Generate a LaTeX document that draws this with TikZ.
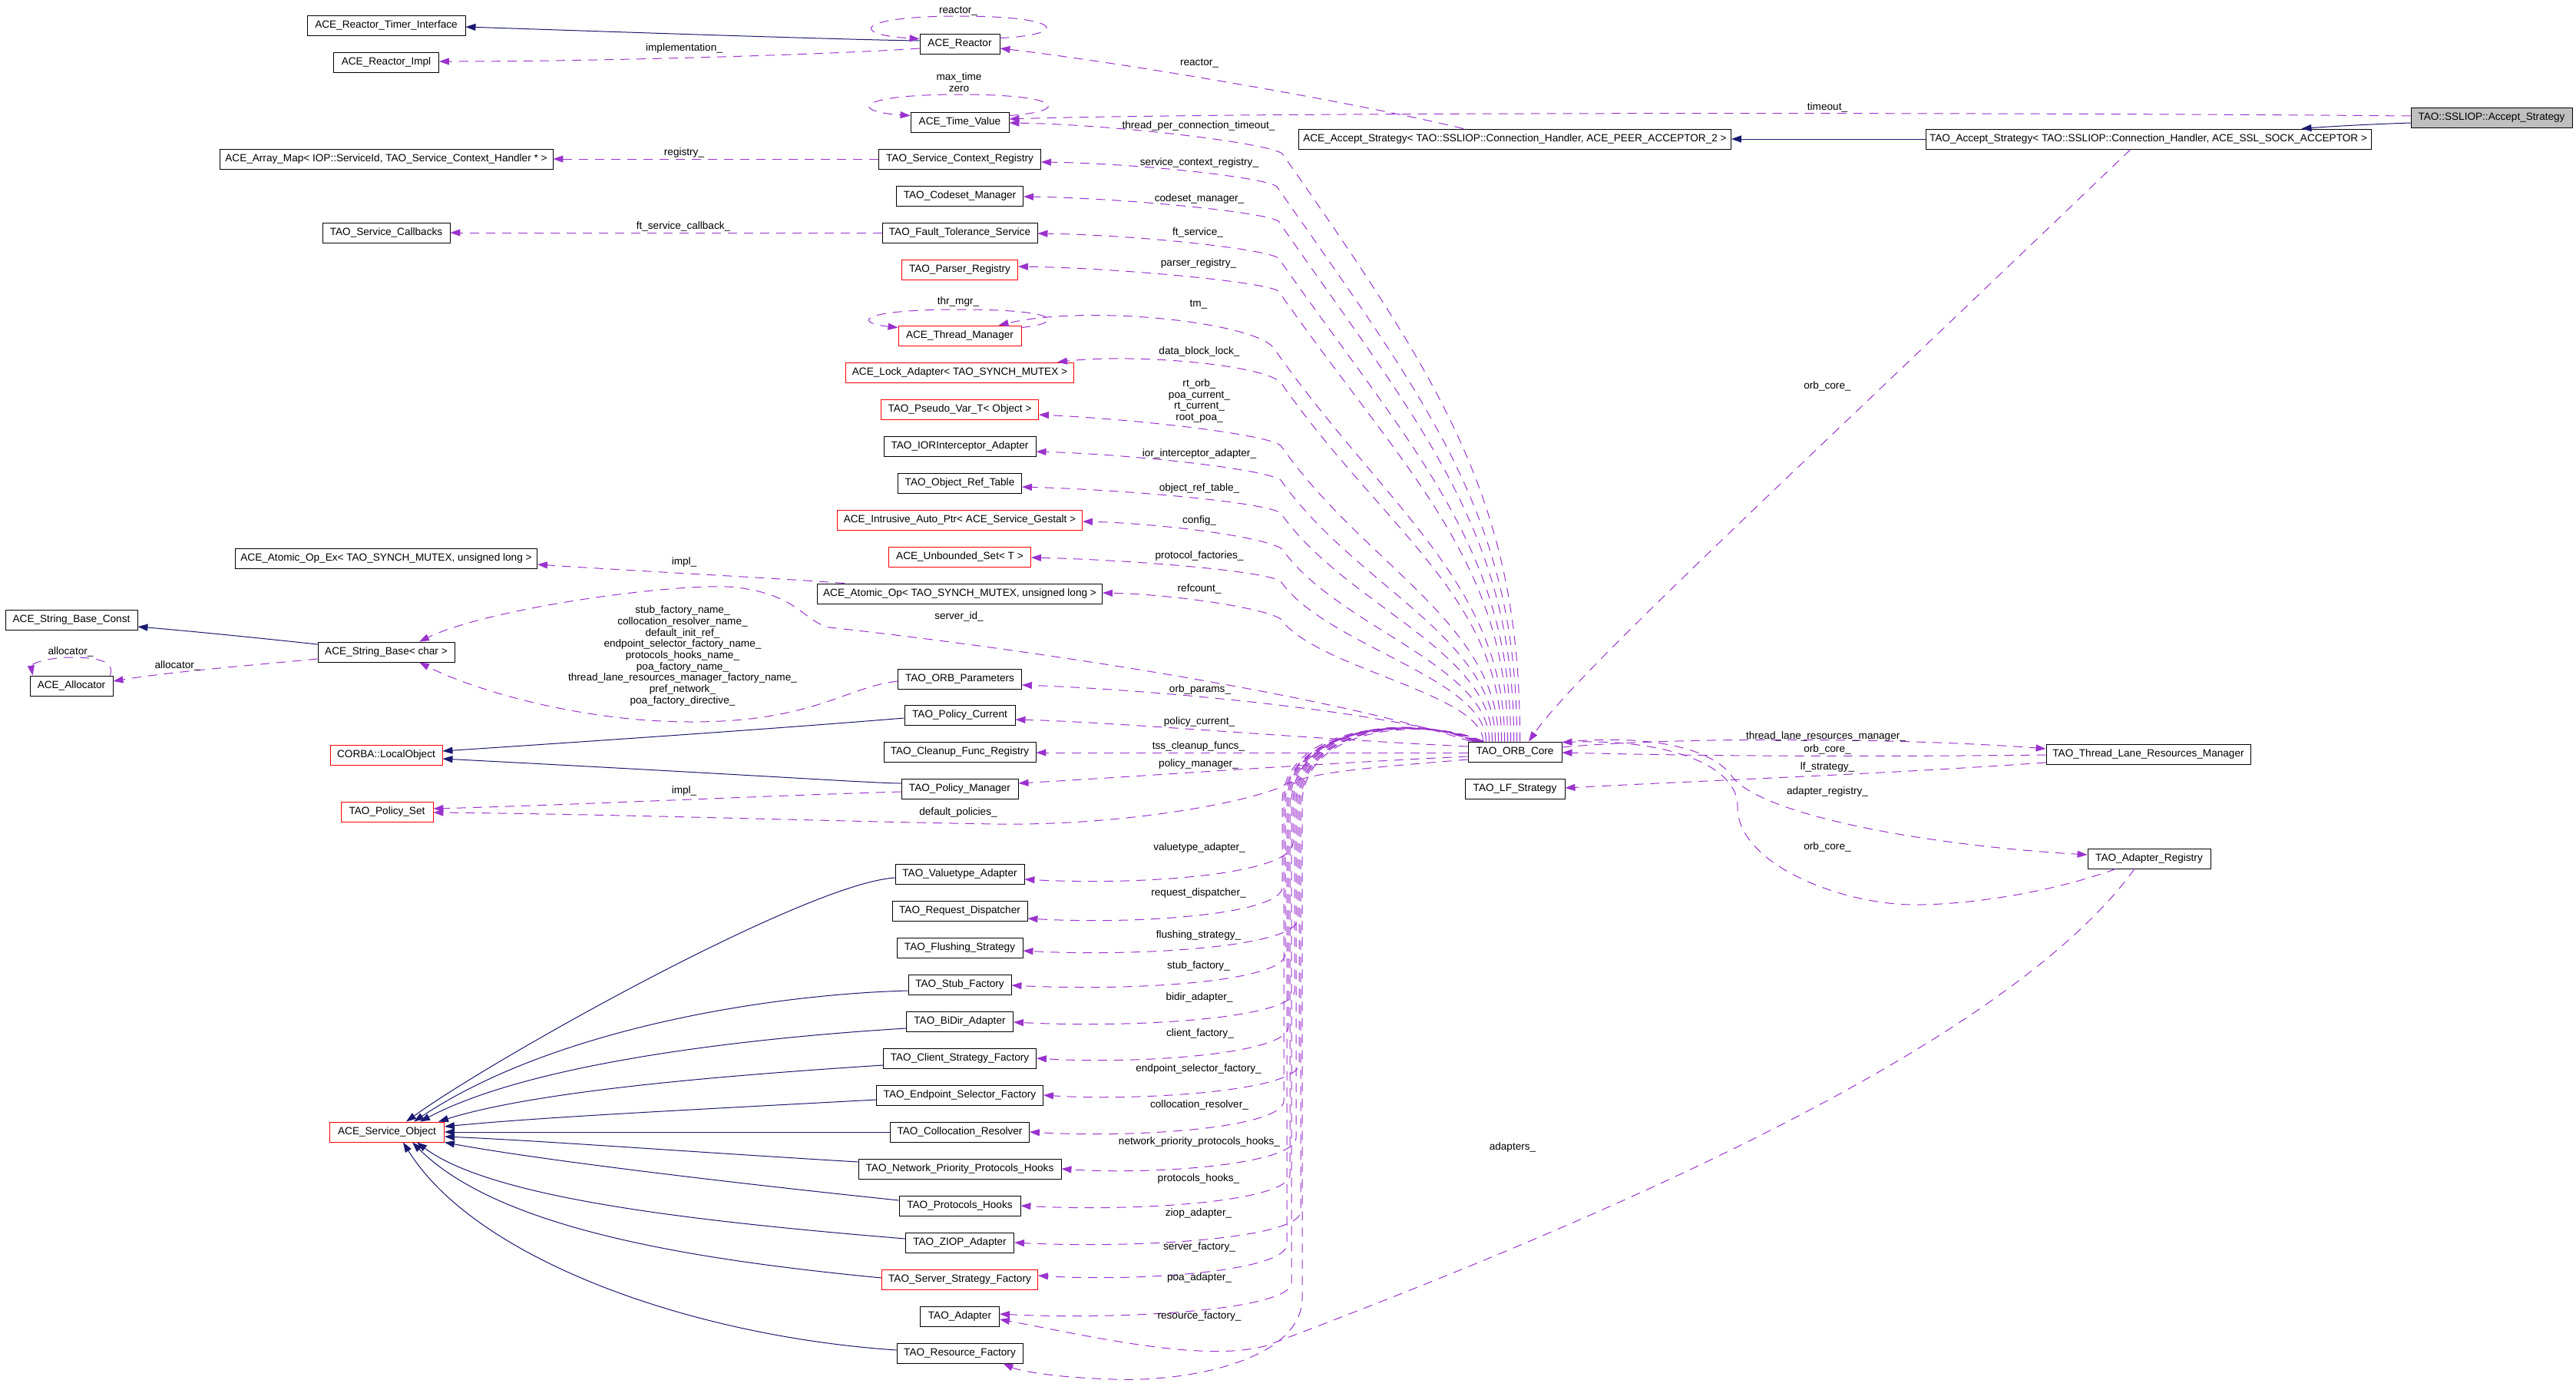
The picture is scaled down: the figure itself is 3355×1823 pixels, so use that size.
\documentclass[tikz,border=0pt]{standalone}
\usepackage{fontspec}
\setmainfont{Liberation Sans}
\usetikzlibrary{arrows.meta,calc}
\definecolor{navyc}{HTML}{191970}
\definecolor{orch}{HTML}{9A32CD}
\definecolor{grayfill}{HTML}{BFBFBF}
\newcommand{\dfont}{\fontsize{13.6}{14.7}\selectfont}
\begin{document}
\begin{tikzpicture}[x=1pt,y=-1pt,
  cls/.style={draw=black, line width=0.9pt, fill=white, minimum height=26pt, inner xsep=3pt, inner ysep=0pt, font=\dfont},
  redcls/.style={cls, draw=red},
  graycls/.style={cls, fill=grayfill},
  inh/.style={draw=navyc, line width=1pt, -{Triangle[length=13pt,width=9pt]}},
  dep/.style={draw=orch, line width=1pt, dash pattern=on 12pt off 9pt, -{Triangle[length=13pt,width=9pt]}},
  lbl/.style={font=\dfont, inner sep=0pt, align=center}]
\fill[white] (0,0) rectangle (3355,1823);
\useasboundingbox (0,0) rectangle (3355,1823);

% ---------- nodes ----------
\node[cls, minimum width=206pt] (rti) at (503,33) {ACE\_Reactor\_Timer\_Interface};
\node[cls, minimum width=137pt] (rimpl) at (503,81) {ACE\_Reactor\_Impl};
\node[cls, minimum width=434pt] (amap) at (503,207) {ACE\_Array\_Map< IOP::ServiceId, TAO\_Service\_Context\_Handler * >};
\node[cls, minimum width=166pt] (scb) at (503,303) {TAO\_Service\_Callbacks};
\node[cls, minimum width=104pt] (reactor) at (1250,57) {ACE\_Reactor};
\node[cls, minimum width=128pt] (tv) at (1250,159) {ACE\_Time\_Value};
\node[cls, minimum width=211pt] (scr) at (1250,207) {TAO\_Service\_Context\_Registry};
\node[cls, minimum width=165pt] (csm) at (1250,255) {TAO\_Codeset\_Manager};
\node[cls, minimum width=202pt] (fts) at (1250,303) {TAO\_Fault\_Tolerance\_Service};
\node[redcls, minimum width=151pt] (pr) at (1250,351) {TAO\_Parser\_Registry};
\node[redcls, minimum width=160pt] (thm) at (1250,437) {ACE\_Thread\_Manager};
\node[redcls, minimum width=297pt] (la) at (1250,485) {ACE\_Lock\_Adapter< TAO\_SYNCH\_MUTEX >};
\node[redcls, minimum width=205pt] (pv) at (1250,533) {TAO\_Pseudo\_Var\_T< Object >};
\node[cls, minimum width=198pt] (ior) at (1250,581) {TAO\_IORInterceptor\_Adapter};
\node[cls, minimum width=161pt] (ort) at (1250,629) {TAO\_Object\_Ref\_Table};
\node[redcls, minimum width=319pt] (iap) at (1250,677) {ACE\_Intrusive\_Auto\_Ptr< ACE\_Service\_Gestalt >};
\node[redcls, minimum width=185pt] (us) at (1250,725) {ACE\_Unbounded\_Set< T >};
\node[cls, minimum width=371pt] (aop) at (1250,773) {ACE\_Atomic\_Op< TAO\_SYNCH\_MUTEX, unsigned long >};
\node[cls, minimum width=393pt] (aopx) at (503,727) {ACE\_Atomic\_Op\_Ex< TAO\_SYNCH\_MUTEX, unsigned long >};
\node[cls, minimum width=172pt] (sbc) at (93,807) {ACE\_String\_Base\_Const};
\node[cls, minimum width=178pt] (sb) at (503,849) {ACE\_String\_Base< char >};
\node[cls, minimum width=108pt] (alloc) at (93,893) {ACE\_Allocator};
\node[cls, minimum width=161pt] (orbp) at (1250,884) {TAO\_ORB\_Parameters};
\node[cls, minimum width=144pt] (pc) at (1250,931) {TAO\_Policy\_Current};
\node[cls, minimum width=198pt] (cfr) at (1250,979) {TAO\_Cleanup\_Func\_Registry};
\node[cls, minimum width=152pt] (pm) at (1250,1027) {TAO\_Policy\_Manager};
\node[redcls, minimum width=146pt] (lo) at (503,983) {CORBA::LocalObject};
\node[redcls, minimum width=120pt] (ps) at (504,1057) {TAO\_Policy\_Set};
\node[cls, minimum width=122pt] (core) at (1973,979) {TAO\_ORB\_Core};
\node[cls, minimum width=130pt] (lf) at (1973,1027) {TAO\_LF\_Strategy};
\node[cls, minimum width=168pt] (vta) at (1250,1138) {TAO\_Valuetype\_Adapter};
\node[cls, minimum width=176pt] (rd) at (1250,1186) {TAO\_Request\_Dispatcher};
\node[cls, minimum width=164pt] (fs) at (1250,1234) {TAO\_Flushing\_Strategy};
\node[cls, minimum width=134pt] (stf) at (1250,1282) {TAO\_Stub\_Factory};
\node[cls, minimum width=139pt] (bda) at (1250,1330) {TAO\_BiDir\_Adapter};
\node[cls, minimum width=199pt] (csf) at (1250,1378) {TAO\_Client\_Strategy\_Factory};
\node[cls, minimum width=217pt] (esf) at (1250,1426) {TAO\_Endpoint\_Selector\_Factory};
\node[cls, minimum width=181pt] (cr) at (1250,1474) {TAO\_Collocation\_Resolver};
\node[cls, minimum width=264pt] (npph) at (1250,1522) {TAO\_Network\_Priority\_Protocols\_Hooks};
\node[cls, minimum width=158pt] (ph) at (1250,1570) {TAO\_Protocols\_Hooks};
\node[cls, minimum width=141pt] (zioa) at (1250,1618) {TAO\_ZIOP\_Adapter};
\node[redcls, minimum width=203pt] (ssf) at (1250,1666) {TAO\_Server\_Strategy\_Factory};
\node[cls, minimum width=103pt] (ada) at (1250,1714) {TAO\_Adapter};
\node[cls, minimum width=164pt] (rf) at (1250,1762) {TAO\_Resource\_Factory};
\node[redcls, minimum width=149pt] (so) at (504,1474) {ACE\_Service\_Object};
\node[cls, minimum width=563pt] (aas) at (1973,181) {ACE\_Accept\_Strategy< TAO::SSLIOP::Connection\_Handler, ACE\_PEER\_ACCEPTOR\_2 >};
\node[cls, minimum width=580pt] (tas) at (2798,181) {TAO\_Accept\_Strategy< TAO::SSLIOP::Connection\_Handler, ACE\_SSL\_SOCK\_ACCEPTOR >};
\node[graycls, minimum width=210pt] (ssl) at (3245,153) {TAO::SSLIOP::Accept\_Strategy};
\node[cls, minimum width=266pt] (tlrm) at (2798,982) {TAO\_Thread\_Lane\_Resources\_Manager};
\node[cls, minimum width=160pt] (areg) at (2799,1118) {TAO\_Adapter\_Registry};

% ---------- inheritance ----------
\draw[inh] ($(reactor.west)+(0,-4)$) .. controls (1100,52) and (700,38) .. ($(rti.east)+(0,2)$);
\draw[inh] ($(sb.west)+(0,-10)$) .. controls (330,830) and (250,822) .. ($(sbc.east)+(0,9)$);
\draw[inh] ($(pc.west)+(0,4)$) .. controls (1140,938) and (1000,950) .. ($(lo.east)+(0,-5)$);
\draw[inh] ($(pm.west)+(0,-7)$) .. controls (1140,1020) and (1000,1010) .. ($(lo.east)+(0,5)$);
\draw[inh] ($(ssl.west)+(0,7)$) .. controls (3080,162) and (3030,165) .. ($(tas.north east)+(-91,0)$);
\draw[inh] (tas.west) -- (aas.east);
\draw[inh] ($(vta.west)+(0,5)$) .. controls (1050,1150) and (640,1380) .. ($(so.north)+(25,0)$);
\draw[inh] ($(stf.west)+(0,8)$) .. controls (1000,1295) and (720,1340) .. ($(so.north)+(35,0)$);
\draw[inh] ($(bda.west)+(0,9)$) .. controls (1000,1350) and (700,1380) .. ($(so.north)+(43,0)$);
\draw[inh] ($(csf.west)+(0,9)$) .. controls (950,1400) and (700,1420) .. ($(so.north east)+(-8,0)$);
\draw[inh] ($(esf.west)+(0,6)$) .. controls (900,1445) and (700,1455) .. ($(so.east)+(0,-7)$);
\draw[inh] (cr.west) -- (so.east);
\draw[inh] ($(npph.west)+(0,-9)$) .. controls (900,1500) and (700,1485) .. ($(so.east)+(0,6)$);
\draw[inh] ($(ph.west)+(0,-7)$) .. controls (950,1540) and (700,1510) .. (so.south east);
\draw[inh] ($(zioa.west)+(0,-5)$) .. controls (900,1590) and (640,1560) .. ($(so.south)+(39,0)$);
\draw[inh] ($(ssf.west)+(0,-2)$) .. controls (900,1640) and (650,1600) .. ($(so.south)+(33,0)$);
\draw[inh] ($(rf.west)+(0,-4)$) .. controls (900,1740) and (620,1640) .. ($(so.south)+(21,0)$);

% ---------- dependencies (left part) ----------
\draw[dep] ($(reactor.west)+(0,6)$) .. controls (1100,70) and (800,80) .. ($(rimpl.east)+(0,-1)$);
\draw[dep] ($(reactor.north east)+(0,6)$) .. controls (1395,45) and (1385,21) .. (1250,21) .. controls (1115,21) and (1105,45) .. ($(reactor.north west)+(0,7)$);
\draw[dep] ($(aas.north west)+(215,0)$) .. controls (1750,130) and (1450,80) .. ($(reactor.east)+(0,6)$);
\draw[dep] ($(ssl.west)+(0,-2)$) .. controls (2600,146) and (1600,146) .. ($(tv.east)+(0,-4)$);
\draw[dep] ($(tv.north east)+(0,5)$) .. controls (1395,145) and (1385,123) .. (1250,123) .. controls (1115,123) and (1105,145) .. ($(tv.north west)+(0,5)$);
\draw[dep] ($(thm.north east)+(0,3)$) .. controls (1390,420) and (1380,403) .. (1250,403) .. controls (1120,403) and (1110,420) .. ($(thm.north west)+(0,3)$);
\draw[dep] (scr.west) -- (amap.east);
\draw[dep] (fts.west) -- (scb.east);
\draw[dep] ($(aop.north west)+(36,0)$) .. controls (1000,752) and (850,745) .. ($(aopx.east)+(0,8)$);
\draw[dep] ($(sb.west)+(0,9)$) .. controls (330,866) and (220,875) .. ($(alloc.east)+(0,-6)$);
\draw[dep] ($(alloc.north east)+(-4,0)$) .. controls (150,860) and (125,856) .. (93,856) .. controls (60,856) and (40,865) .. ($(alloc.north west)+(4,0)$);
\draw[dep] ($(orbp.west)+(0,3)$) .. controls (1100,895) and (1060,940) .. (900,940) .. controls (760,940) and (620,900) .. ($(sb.south)+(43,0)$);
\draw[dep] ($(core.north west)+(4,0)$) .. controls (1700,895) and (1250,835) .. (1080,817) .. controls (1045,808) and (1040,775) .. (960,765) .. controls (896,757) and (640,790) .. ($(sb.north)+(43,0)$);
\draw[dep] ($(pm.west)+(0,4)$) .. controls (1000,1036) and (750,1048) .. ($(ps.east)+(0,-4)$);
\draw[dep] ($(core.west)+(0,10)$) .. controls (1780,1000) and (1700,1005) .. (1663,1027) .. controls (1600,1050) and (1450,1075) .. (1298,1073) .. controls (1100,1070) and (800,1060) .. ($(ps.east)+(0,1)$);

% ---------- dependencies: upper bundle from core ----------
\draw[dep] ($(core.north west)+(68,0)$) .. controls (1980,660) and (1885,507) .. (1670,200) .. controls (1652,186) and (1450,162) .. ($(tv.east)+(0,1)$);
\draw[dep] ($(core.north west)+(64,0)$) .. controls (1976,677) and (1866,533) .. (1663,243) .. controls (1648,231) and (1485,213) .. ($(scr.east)+(0,4)$);
\draw[dep] ($(core.north west)+(60,0)$) .. controls (1972,695) and (1855,560) .. (1665,288) .. controls (1648,276) and (1462,258) .. ($(csm.east)+(0,1)$);
\draw[dep] ($(core.north west)+(56,0)$) .. controls (1968,715) and (1842,588) .. (1665,336) .. controls (1648,324) and (1481,306) .. ($(fts.east)+(0,1)$);
\draw[dep] ($(core.north west)+(52,0)$) .. controls (1964,732) and (1830,614) .. (1665,379) .. controls (1648,367) and (1456,349) .. ($(pr.east)+(0,-4)$);
\draw[dep] ($(core.north west)+(48,0)$) .. controls (1960,761) and (1802,658) .. (1658,452) .. controls (1630,420) and (1420,396) .. ($(thm.north east)+(-30,0)$);
\draw[dep] ($(core.north west)+(44,0)$) .. controls (1956,779) and (1799,686) .. (1668,498) .. controls (1645,475) and (1480,460) .. ($(la.north east)+(-22,0)$);
\draw[dep] ($(core.north west)+(40,0)$) .. controls (1952,812) and (1776,735) .. (1668,580) .. controls (1648,565) and (1480,546) .. ($(pv.east)+(0,7)$);
\draw[dep] ($(core.north west)+(36,0)$) .. controls (1948,830) and (1764,762) .. (1668,625) .. controls (1648,611) and (1480,592) .. ($(ior.east)+(0,7)$);
\draw[dep] ($(core.north west)+(32,0)$) .. controls (1944,847) and (1752,788) .. (1668,668) .. controls (1648,654) and (1470,638) .. ($(ort.east)+(0,5)$);
\draw[dep] ($(core.north west)+(28,0)$) .. controls (1940,866) and (1741,816) .. (1670,715) .. controls (1650,700) and (1520,682) .. ($(iap.east)+(0,2)$);
\draw[dep] ($(core.north west)+(24,0)$) .. controls (1936,883) and (1727,841) .. (1668,757) .. controls (1648,743) and (1470,729) .. ($(us.east)+(0,1)$);
\draw[dep] ($(core.north west)+(20,0)$) .. controls (1932,903) and (1713,870) .. (1668,806) .. controls (1648,792) and (1530,774) .. ($(aop.east)+(0,-1)$);
\draw[dep] ($(core.north west)+(14,0)$) .. controls (1800,925) and (1500,898) .. ($(orbp.east)+(0,8)$);
\draw[dep] ($(core.west)+(0,-7)$) .. controls (1700,962) and (1450,940) .. ($(pc.east)+(0,6)$);
\draw[dep] ($(core.west)+(0,1)$) -- ($(cfr.east)+(0,1)$);
\draw[dep] ($(core.west)+(0,6)$) .. controls (1700,995) and (1500,1010) .. ($(pm.east)+(0,-7)$);

% ---------- dependencies: lower bundle from core ----------
\draw[dep] ($(core.north west)+(8,0)$) .. controls (1858,933) and (1694,935) .. (1684,1040) -- (1684,1098) .. controls (1681,1140) and (1480,1153) .. ($(vta.east)+(0,7)$);
\draw[dep] ($(core.north west)+(16,0)$) .. controls (1866,937) and (1680,932) .. (1670,1040) -- (1670,1156) .. controls (1667,1191) and (1480,1204) .. ($(rd.east)+(0,10)$);
\draw[dep] ($(core.north west)+(11,0)$) .. controls (1861,935) and (1700,938) .. (1690,1040) -- (1690,1198) .. controls (1687,1233) and (1480,1246) .. ($(fs.east)+(0,4)$);
\draw[dep] ($(core.north west)+(19,0)$) .. controls (1869,936) and (1684,934) .. (1674,1040) -- (1674,1243) .. controls (1671,1278) and (1480,1291) .. ($(stf.east)+(0,1)$);
\draw[dep] ($(core.north west)+(9,0)$) .. controls (1859,934) and (1696,936) .. (1686,1040) -- (1686,1291) .. controls (1683,1326) and (1480,1339) .. ($(bda.east)+(0,1)$);
\draw[dep] ($(core.north west)+(17,0)$) .. controls (1867,938) and (1688,933) .. (1678,1040) -- (1678,1338) .. controls (1675,1373) and (1480,1386) .. (csf.east);
\draw[dep] ($(core.north west)+(12,0)$) .. controls (1862,935) and (1702,937) .. (1692,1040) -- (1692,1386) .. controls (1689,1421) and (1480,1434) .. (esf.east);
\draw[dep] ($(core.north west)+(20,0)$) .. controls (1870,936) and (1682,935) .. (1672,1040) -- (1672,1434) .. controls (1669,1469) and (1480,1482) .. (cr.east);
\draw[dep] ($(core.north west)+(10,0)$) .. controls (1860,934) and (1698,936) .. (1688,1040) -- (1688,1482) .. controls (1685,1517) and (1500,1530) .. (npph.east);
\draw[dep] ($(core.north west)+(18,0)$) .. controls (1868,937) and (1690,934) .. (1680,1040) -- (1680,1530) .. controls (1677,1565) and (1480,1578) .. (ph.east);
\draw[dep] ($(core.north west)+(13,0)$) .. controls (1863,935) and (1704,938) .. (1694,1040) -- (1694,1578) .. controls (1691,1613) and (1480,1626) .. (zioa.east);
\draw[dep] ($(core.north west)+(15,0)$) .. controls (1865,936) and (1686,934) .. (1676,1040) -- (1676,1621) .. controls (1673,1656) and (1480,1669) .. ($(ssf.east)+(0,-5)$);
\draw[dep] ($(core.north west)+(7,0)$) .. controls (1857,933) and (1692,936) .. (1682,1040) -- (1682,1671) .. controls (1679,1706) and (1460,1719) .. ($(ada.east)+(0,-3)$);
\draw[dep] ($(core.north west)+(21,0)$) .. controls (1871,938) and (1706,937) .. (1696,1040) -- (1696,1690) .. controls (1696,1770) and (1550,1800) .. (1450,1796) .. controls (1380,1794) and (1330,1786) .. ($(rf.south east)+(-26,0)$);

% ---------- dependencies: right part ----------
\draw[dep] ($(tas.south)+(-23,0)$) .. controls (2300,650) and (2050,880) .. ($(core.north)+(18,0)$);
\draw[dep] ($(core.east)+(0,-6)$) .. controls (2200,958) and (2500,962) .. ($(tlrm.west)+(0,-7)$);
\draw[dep] ($(tlrm.west)+(0,1)$) .. controls (2400,986) and (2200,984) .. ($(core.east)+(0,1)$);
\draw[dep] ($(tlrm.west)+(0,11)$) .. controls (2450,1008) and (2250,1015) .. ($(lf.east)+(0,-1)$);
\draw[dep] ($(core.north east)+(0,1)$) .. controls (2150,955) and (2230,975) .. (2255,1010) .. controls (2290,1060) and (2500,1100) .. ($(areg.west)+(0,-5)$);
\draw[dep] ($(areg.south west)+(37,0)$) .. controls (2650,1170) and (2520,1182) .. (2470,1177) .. controls (2380,1170) and (2262,1120) .. (2263,1050) .. controls (2264,1000) and (2180,962) .. ($(core.north east)+(0,1)$);
\draw[dep] ($(areg.south)+(-19,0)$) .. controls (2600,1380) and (2000,1620) .. (1650,1752) .. controls (1570,1775) and (1420,1740) .. ($(ada.east)+(0,4)$);

% ---------- labels ----------
\node[lbl] (l01) at (891,63) {implementation\_};
\node[lbl] (l02) at (1248,14) {reactor\_};
\node[lbl] (l03) at (1562,82) {reactor\_};
\node[lbl] (l04) at (1249,107) {max\_time\\zero};
\node[lbl] (l05) at (2380,140) {timeout\_};
\node[lbl] (l06) at (1561,164) {thread\_per\_connection\_timeout\_};
\node[lbl] (l07) at (891,199) {registry\_};
\node[lbl] (l08) at (1562,212) {service\_context\_registry\_};
\node[lbl] (l09) at (1562,259) {codeset\_manager\_};
\node[lbl] (l10) at (890,295) {ft\_service\_callback\_};
\node[lbl] (l11) at (1560,303) {ft\_service\_};
\node[lbl] (l12) at (1561,343) {parser\_registry\_};
\node[lbl] (l13) at (1248,393) {thr\_mgr\_};
\node[lbl] (l14) at (1561,396) {tm\_};
\node[lbl] (l15) at (1562,458) {data\_block\_lock\_};
\node[lbl] (l16) at (1562,522) {rt\_orb\_\\poa\_current\_\\rt\_current\_\\root\_poa\_};
\node[lbl] (l17) at (1562,591) {ior\_interceptor\_adapter\_};
\node[lbl] (l18) at (1562,636) {object\_ref\_table\_};
\node[lbl] (l19) at (1562,678) {config\_};
\node[lbl] (l20) at (1562,724) {protocol\_factories\_};
\node[lbl] (l21) at (891,732) {impl\_};
\node[lbl] (l22) at (1562,767) {refcount\_};
\node[lbl] (l23) at (1249,803) {server\_id\_};
\node[lbl] (l24) at (889,854) {stub\_factory\_name\_\\collocation\_resolver\_name\_\\default\_init\_ref\_\\endpoint\_selector\_factory\_name\_\\protocols\_hooks\_name\_\\poa\_factory\_name\_\\thread\_lane\_resources\_manager\_factory\_name\_\\pref\_network\_\\poa\_factory\_directive\_};
\node[lbl] (l25) at (92,849) {allocator\_};
\node[lbl] (l26) at (231,867) {allocator\_};
\node[lbl] (l27) at (1563,898) {orb\_params\_};
\node[lbl] (l28) at (1562,940) {policy\_current\_};
\node[lbl] (l29) at (1561,972) {tss\_cleanup\_funcs\_};
\node[lbl] (l30) at (1561,995) {policy\_manager\_};
\node[lbl] (l31) at (891,1030) {impl\_};
\node[lbl] (l32) at (1248,1058) {default\_policies\_};
\node[lbl] (l33) at (1562,1104) {valuetype\_adapter\_};
\node[lbl] (l34) at (1561,1163) {request\_dispatcher\_};
\node[lbl] (l35) at (1561,1218) {flushing\_strategy\_};
\node[lbl] (l36) at (1561,1258) {stub\_factory\_};
\node[lbl] (l37) at (1562,1299) {bidir\_adapter\_};
\node[lbl] (l38) at (1563,1346) {client\_factory\_};
\node[lbl] (l39) at (1561,1392) {endpoint\_selector\_factory\_};
\node[lbl] (l40) at (1562,1439) {collocation\_resolver\_};
\node[lbl] (l41) at (1562,1487) {network\_priority\_protocols\_hooks\_};
\node[lbl] (l42) at (1561,1535) {protocols\_hooks\_};
\node[lbl] (l43) at (1561,1580) {ziop\_adapter\_};
\node[lbl] (l44) at (1562,1624) {server\_factory\_};
\node[lbl] (l45) at (1562,1664) {poa\_adapter\_};
\node[lbl] (l46) at (1562,1714) {resource\_factory\_};
\node[lbl] (l47) at (1970,1494) {adapters\_};
\node[lbl] (l48) at (2378,959) {thread\_lane\_resources\_manager\_};
\node[lbl] (l49) at (2380,976) {orb\_core\_};
\node[lbl] (l50) at (2380,999) {lf\_strategy\_};
\node[lbl] (l51) at (2380,1031) {adapter\_registry\_};
\node[lbl] (l52) at (2380,1103) {orb\_core\_};
\node[lbl] (l53) at (2380,503) {orb\_core\_};
\end{tikzpicture}
\end{document}
